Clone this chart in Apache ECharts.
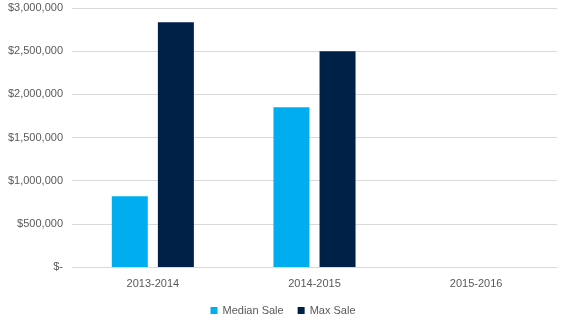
<!DOCTYPE html>
<html><head><meta charset="utf-8">
<script src="https://cdn.jsdelivr.net/npm/echarts@6/dist/echarts.min.js"></script>
<style>html,body{margin:0;padding:0;background:#fff}#c{width:566px;height:327px}</style>
</head><body><div id="c"></div>
<script>
var categories = ["2013-2014", "2014-2015", "2015-2016"];
var medianSale = [820000, 1850000, null];
var maxSale = [2835000, 2500000, null];
var yTicks = [0, 500000, 1000000, 1500000, 2000000, 2500000, 3000000];

function fmt(v){
  if (v === 0) return "$-";
  return "$" + v.toString().replace(/\B(?=(\d{3})+(?!\d))/g, ",");
}
var font = "'Liberation Sans', Arial, sans-serif";
var chart = echarts.init(document.getElementById('c'), null, {renderer:'canvas'});
chart.setOption({
  animation:false,
  textStyle:{fontFamily:font},
  grid:{left:72, right:9, top:8, bottom:60, containLabel:false},
  legend:{
    bottom:6, left:'center',
    itemWidth:7, itemHeight:7, itemGap:14,
    icon:'rect',
    textStyle:{color:'#595959', fontSize:11, fontFamily:font},
    data:['Median Sale','Max Sale']
  },
  xAxis:{
    type:'category', data:categories,
    axisLine:{lineStyle:{color:'#d9d9d9'}},
    axisTick:{show:false},
    axisLabel:{color:'#595959', fontSize:11, margin:11, fontFamily:font}
  },
  yAxis:{
    type:'value', min:yTicks[0], max:yTicks[yTicks.length-1], interval:500000,
    axisLine:{show:false}, axisTick:{show:false},
    splitLine:{lineStyle:{color:'#d9d9d9'}},
    axisLabel:{color:'#595959', fontSize:11, margin:9, formatter:fmt, fontFamily:font}
  },
  series:[
    {name:'Median Sale', type:'bar', data:medianSale, barWidth:36, barGap:'28%', itemStyle:{color:'#00AEEF'}},
    {name:'Max Sale', type:'bar', data:maxSale, barWidth:36, itemStyle:{color:'#002147'}}
  ]
});
</script></body></html>
